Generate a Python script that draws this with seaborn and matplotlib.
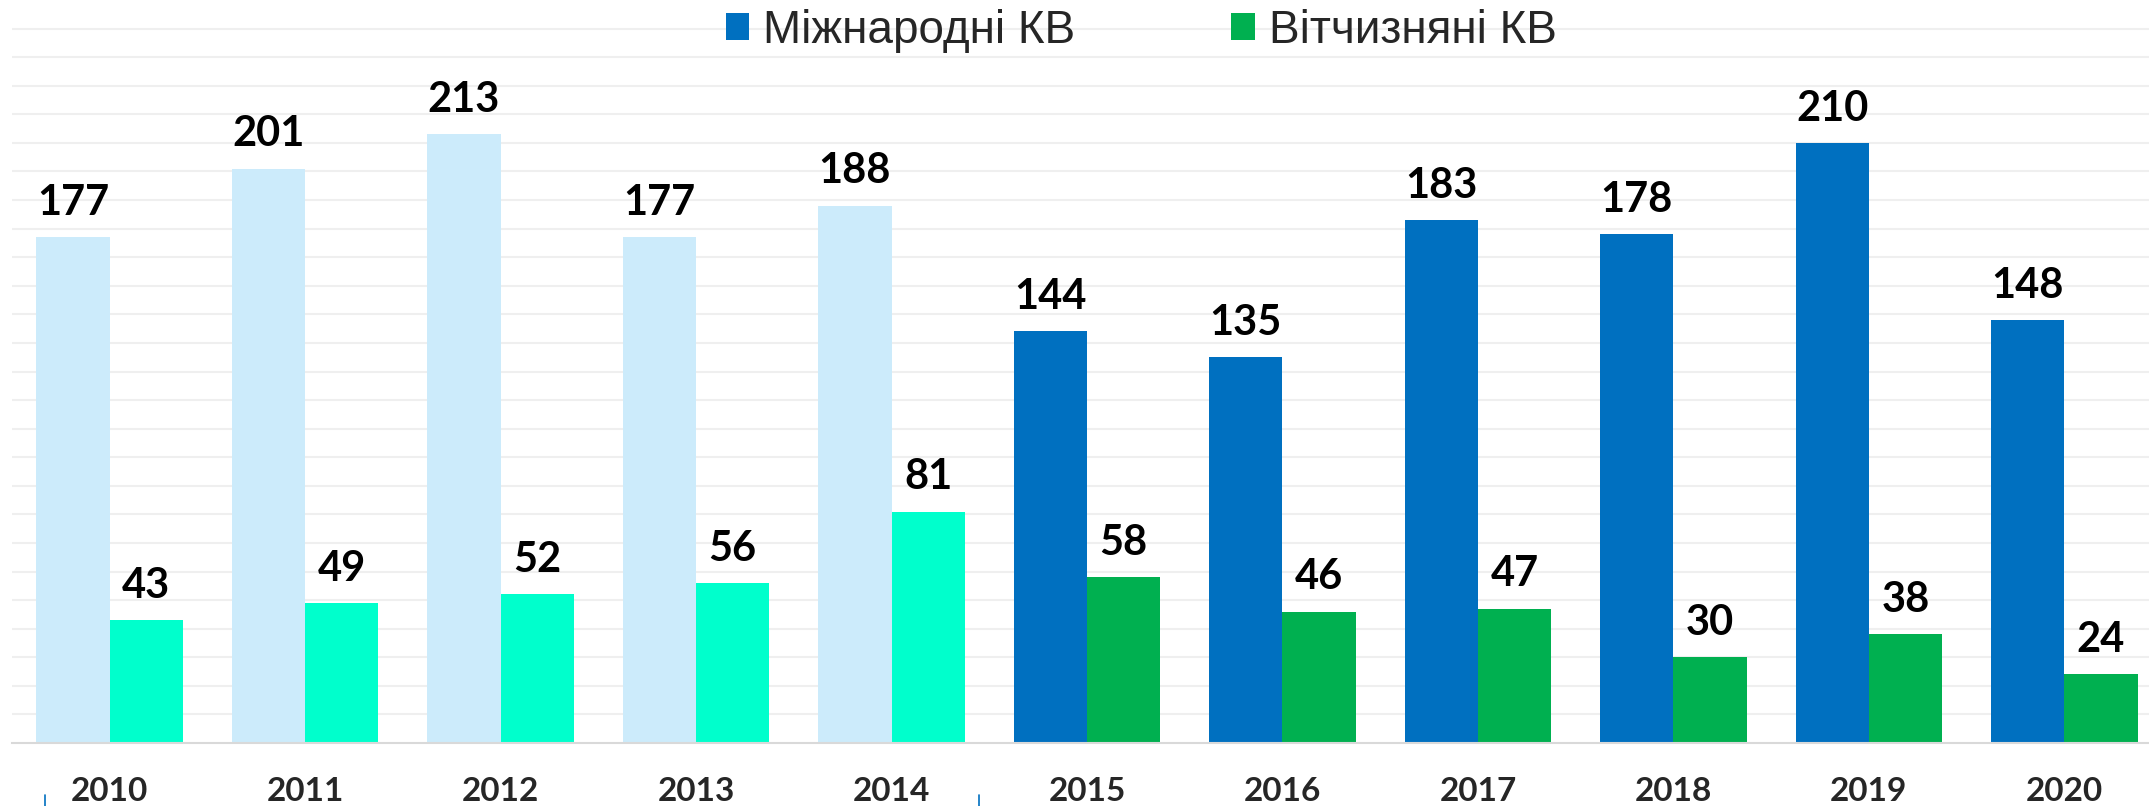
import pandas as pd
import matplotlib.pyplot as plt
import seaborn as sns
from matplotlib.patches import Patch

# data
years = ['2010', '2011', '2012', '2013', '2014', '2015', '2016', '2017', '2018', '2019', '2020']
intl = [177, 201, 213, 177, 188, 144, 135, 183, 178, 210, 148]
domestic = [43, 49, 52, 56, 81, 58, 46, 47, 30, 38, 24]
series = ['Міжнародні КВ', 'Вітчизняні КВ']

# colours: first five years drawn lighter
dark_colors = ['#0070C0', '#00B050']
light_colors = ['#CCEBFB', '#00FFCC']
n_light = 5

df = pd.DataFrame({'year': years * 2,
                   'value': intl + domestic,
                   'series': [series[0]] * len(years) + [series[1]] * len(years)})

sns.set_style('white')
fig = plt.figure(figsize=(21.49, 8.06), dpi=100)
ax = fig.add_axes([12 / 2149, 63 / 806, 2150 / 2149, 743 / 806])

sns.barplot(data=df, x='year', y='value', hue='series', hue_order=series,
            order=years, palette=dark_colors, width=0.75, gap=0,
            saturation=1, ax=ax, legend=False, zorder=2)

for k, cont in enumerate(ax.containers):
    for i, bar in enumerate(cont):
        bar.set_facecolor(light_colors[k] if i < n_light else dark_colors[k])
        bar.set_edgecolor('none')
    ax.bar_label(cont, padding=11, fontsize=30, fontweight='bold',
                 family='Lato', color='black')

ax.set_xlim(-0.5, 10.5)
ax.set_ylim(0, 260)
ax.set_yticks(range(10, 251, 10))
ax.yaxis.grid(True, color='#EFEFEF', linewidth=1.5, zorder=0)
ax.set_axisbelow(True)
ax.tick_params(axis='y', left=False, labelleft=False)
ax.tick_params(axis='x', bottom=False, pad=21)
for lab in ax.get_xticklabels():
    lab.set_fontfamily('Lato')
    lab.set_fontweight('bold')
    lab.set_fontsize(24)
ax.set_xlabel('')
ax.set_ylabel('')
for side in ['top', 'left', 'right']:
    ax.spines[side].set_visible(False)
ax.spines['bottom'].set_color('#D9D9D9')
ax.spines['bottom'].set_linewidth(1.5)

# small blue marks under the axis
for xm in [-0.33, 4.45]:
    ax.plot([xm, xm], [-0.07, -0.09], color='#0070C0', lw=1.2,
            transform=ax.get_xaxis_transform(), clip_on=False)

handles = [Patch(facecolor=c, edgecolor='none') for c in dark_colors]
fig.legend(handles, series, loc='center', bbox_to_anchor=(0.531, 0.962),
           ncol=2, frameon=False, prop={'family': 'Liberation Sans', 'size': 33},
           handlelength=0.52, handleheight=0.52, handletextpad=0.3,
           columnspacing=3.4, borderaxespad=0)

fig.savefig('out.png', dpi=100)
